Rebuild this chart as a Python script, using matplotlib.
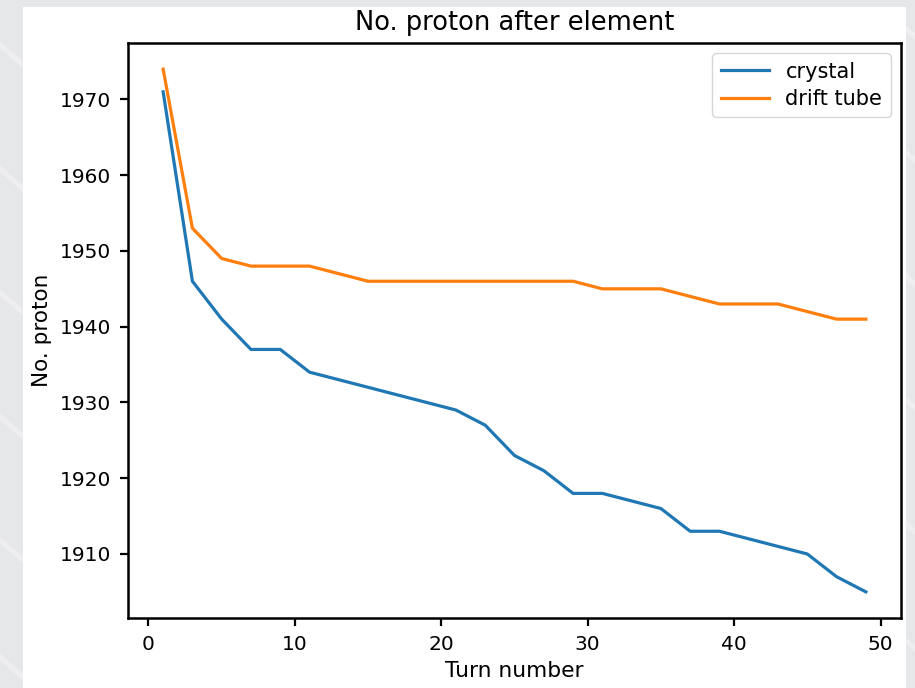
import matplotlib
matplotlib.use("Agg")
import matplotlib.pyplot as plt
from matplotlib.patches import Rectangle, Polygon

# Turn numbers (every second turn)
turns = [1, 3, 5, 7, 9, 11, 13, 15, 17, 19, 21, 23, 25,
         27, 29, 31, 33, 35, 37, 39, 41, 43, 45, 47, 49]

# Surviving protons after each element
crystal = [1971, 1946, 1941, 1937, 1937, 1934, 1933, 1932, 1931, 1930, 1929, 1927, 1923,
           1921, 1918, 1918, 1917, 1916, 1913, 1913, 1912, 1911, 1910, 1907, 1905]
drift_tube = [1974, 1953, 1949, 1948, 1948, 1948, 1947, 1946, 1946, 1946, 1946, 1946, 1946,
              1946, 1946, 1945, 1945, 1945, 1944, 1943, 1943, 1943, 1942, 1941, 1941]

fig = plt.figure(figsize=(9.15, 6.88), dpi=100)
fig.patch.set_facecolor("#e6e7e9")

# faint diagonal bands on the page background
for y0 in [0.05, 0.22, 0.40, 0.58, 0.76, 0.94]:
    fig.patches.append(Polygon([[0, y0], [0.03, y0 - 0.035], [0.03, y0 - 0.045], [0, y0 - 0.01]],
                               closed=True, transform=fig.transFigure,
                               facecolor="#eeeef0", edgecolor="none", zorder=-3))
    fig.patches.append(Polygon([[0.985, y0 + 0.03], [1.0, y0 + 0.012], [1.0, y0 + 0.002], [0.985, y0 + 0.02]],
                               closed=True, transform=fig.transFigure,
                               facecolor="#eeeef0", edgecolor="none", zorder=-3))

# white drawing sheet
fig.patches.append(Rectangle((23 / 915, 0), (906 - 23) / 915, (688 - 7) / 688,
                             transform=fig.transFigure, facecolor="white",
                             edgecolor="none", zorder=-2))

ax = fig.add_axes([128 / 915, 1 - 618 / 688, (901 - 128) / 915, (618 - 43) / 688])
ax.plot(turns, crystal, color="#1f77b4", lw=2.3, label="crystal")
ax.plot(turns, drift_tube, color="#ff7f0e", lw=2.3, label="drift tube")

ax.set_title("No. proton after element", fontsize=18.5, pad=9)
ax.set_xlabel("Turn number", fontsize=15.7, labelpad=5)
ax.set_ylabel("No. proton", fontsize=15.5, labelpad=6)
ax.set_xticks([0, 10, 20, 30, 40, 50])
ax.set_yticks([1910, 1920, 1930, 1940, 1950, 1960, 1970])
ax.tick_params(labelsize=14.5, width=1.6, length=6, pad=6)
for s in ax.spines.values():
    s.set_linewidth(1.8)
ax.legend(loc="upper right", fontsize=15, handlelength=2.3, labelspacing=0.35,
          borderaxespad=0.5)

fig.savefig("out.png", dpi=100, facecolor=fig.get_facecolor())
